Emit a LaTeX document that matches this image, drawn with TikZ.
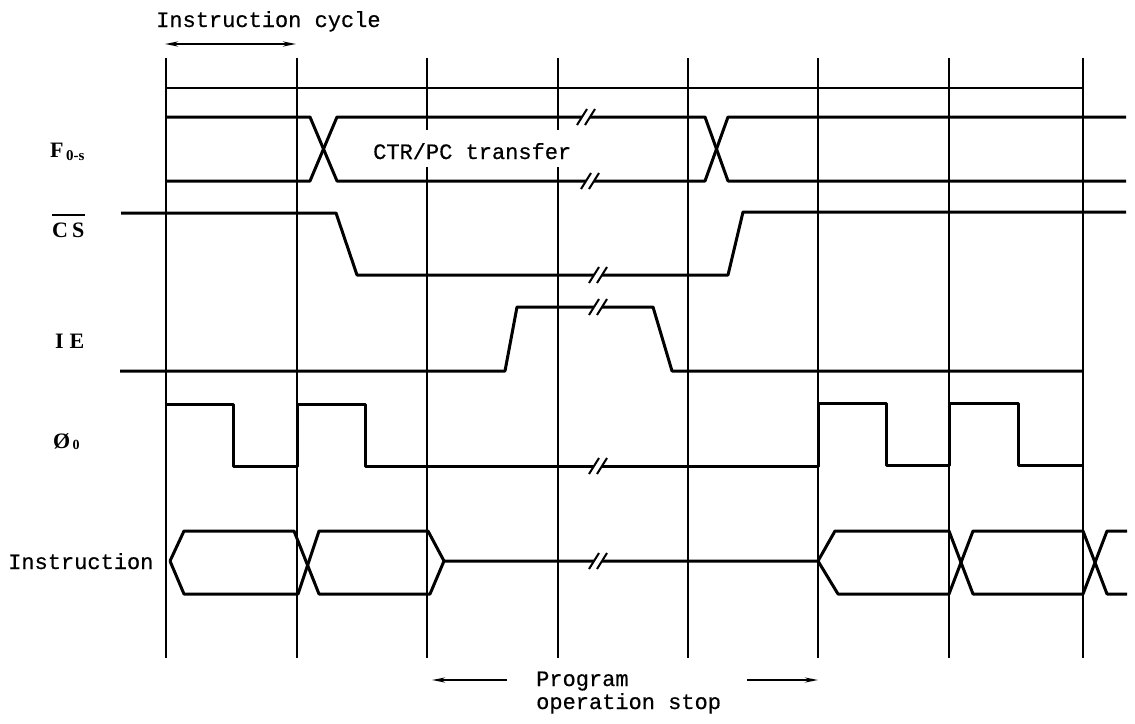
\documentclass[tikz,border=0pt]{standalone}
\usepackage{fontspec}
\newfontfamily\typew[FakeBold=0.5]{Liberation Mono}
\newfontfamily\lblfont{Liberation Serif}
\usetikzlibrary{positioning,arrows.meta}

% break mark on a signal line
\newcommand{\brk}[2]{%
  \fill[white] (#1-4,#2-3) rectangle (#1+4,#2+3);
  \draw[line width=2pt] (#1-9,#2+8) -- (#1+1,#2-8);
  \draw[line width=2pt] (#1-1,#2+8) -- (#1+9,#2-8);}

\tikzset{
  sig/.style={line width=3pt, line join=round},
  grid/.style={line width=1.6pt},
  lbl/.style={font=\lblfont\bfseries\fontsize{22}{24}\selectfont, anchor=base west},
}

\begin{document}
\begin{tikzpicture}[>={Stealth[length=13pt,width=5pt]}, x=1pt, y=-1pt,
    every node/.style={font=\typew\fontsize{22}{24}\selectfont, inner sep=0pt}]
    \useasboundingbox (0,0) rectangle (1135,723);

    % clock grid
    \foreach \x in {166,297,427,558,688,818,949,1083}
      \draw[grid] (\x,58) -- (\x,658);
    \draw[line width=2pt] (166,88) -- (1083,88);

    % F lines
    \fill[white] (365,130) rectangle (578,167);
    \draw[sig] (166,117) -- (310,117) -- (337,181) -- (705,181) -- (728,117) -- (1126,117);
    \draw[sig] (166,181) -- (310,181) -- (337,117) -- (705,117) -- (728,181) -- (1126,181);
    \brk{586}{117}
    \brk{590}{181}

    % CS
    \draw[sig] (121,213) -- (336,213) -- (357,275) -- (728,275) -- (743,212) -- (1126,212);
    \brk{598}{275}

    % IE
    \draw[sig] (120,371) -- (505,371) -- (517,307) -- (653,307) -- (672,371) -- (1083,371);
    \brk{598}{307}

    % phi 0
    \draw[sig] (167,404) -- (233,404) -- (233,466) -- (297,466) -- (297,404) -- (365,404)
      -- (365,466) -- (818,466) -- (818,403) -- (886,403) -- (886,465) -- (949,465)
      -- (949,403) -- (1018,403) -- (1018,465) -- (1083,465);
    \brk{598}{466}

    % instruction bus
    \draw[sig] (170,561) -- (184,531) -- (294,531) -- (319,594) -- (430,594) -- (444,561)
      -- (818,561) -- (835,531) -- (949,531) -- (973,594) -- (1083,594) -- (1107,531) -- (1127,531);
    \draw[sig] (170,561) -- (184,594) -- (298,594) -- (319,531) -- (428,531) -- (444,561);
    \draw[sig] (818,561) -- (838,594) -- (949,594) -- (973,531) -- (1083,531) -- (1107,594) -- (1127,594);
    \brk{598}{561}

    % labels
    \node[anchor=base west] (cyc) at (156,27) {Instruction cycle};
    \coordinate (cycl) at (165,44);
    \coordinate (cycr) at (296,44);
    \draw[<->, line width=2pt] (cycl) -- (cycr);

    \node[anchor=base west] (ctr) at (373,159) {CTR/PC transfer};

    \node[lbl] (f) at (50,157) {F\raisebox{-3pt}{\fontsize{15}{16}\selectfont\,0-s}};
    \node[lbl] (cs) at (52,237) {C\hspace{4pt}S};
    \draw[line width=1.8pt] ([yshift=7pt]cs.north west) -- ([yshift=7pt]cs.north east);
    \node[lbl] (ie) at (55,348) {I\hspace{6pt}E};
    \node[lbl] (phi) at (53,448) {Ø\raisebox{-1pt}{\fontsize{14}{15}\selectfont\,0}};
    \node[anchor=base west] (ins) at (8,569) {Instruction};

    \node[anchor=base west] (prog) at (536,686) {Program};
    \node[anchor=base west] (stop) at (536,709) {operation stop};
    \coordinate (stopl) at (432,680);
    \coordinate (stopr) at (818,680);
    \draw[->, line width=2pt] (507,680) -- (stopl);
    \draw[->, line width=2pt] (747,680) -- (stopr);

\end{tikzpicture}
\end{document}
